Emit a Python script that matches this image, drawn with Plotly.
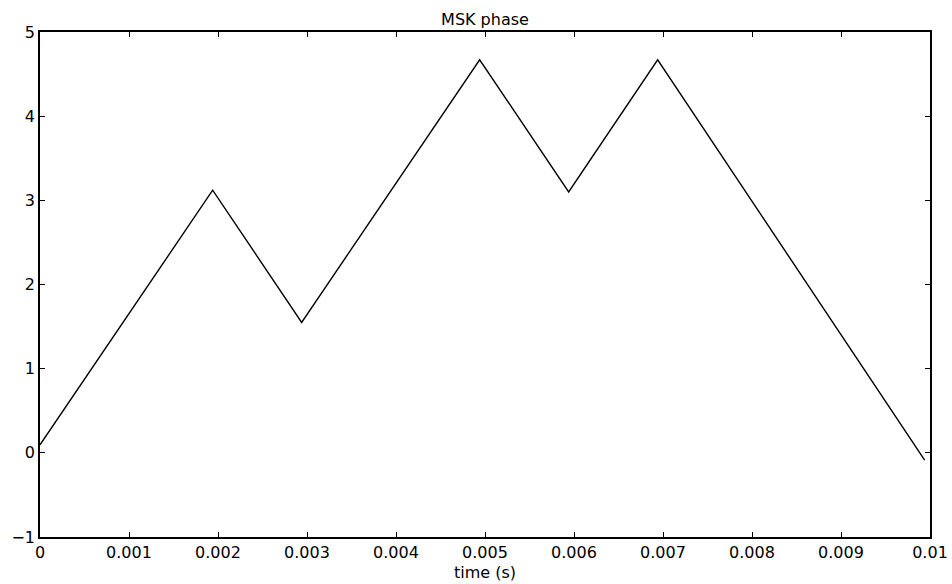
import plotly.graph_objects as go

# vertices of the MSK phase trajectory (time in s, phase in rad)
time_s = [0.0, 0.00194, 0.00294, 0.00494, 0.00594, 0.00694, 0.00994]
phase = [0.095, 3.12, 1.55, 4.67, 3.10, 4.67, -0.087]

x_ticks = [0, 0.001, 0.002, 0.003, 0.004, 0.005, 0.006, 0.007, 0.008, 0.009, 0.01]
x_tick_text = ["0", "0.001", "0.002", "0.003", "0.004", "0.005", "0.006", "0.007", "0.008", "0.009", "0.01"]
y_ticks = [-1, 0, 1, 2, 3, 4, 5]

fig = go.Figure()
fig.add_trace(go.Scatter(x=time_s, y=phase, mode="lines",
                         line=dict(color="black", width=1.4), showlegend=False))

W, H = 952, 584
font = dict(family="DejaVu Sans, Verdana, sans-serif", size=16, color="black")
fig.update_layout(
    width=W, height=H,
    margin=dict(l=40, r=22, t=32, b=47),
    paper_bgcolor="white", plot_bgcolor="white",
    font=font,
    title=dict(text="MSK phase", x=485 / W, xanchor="center",
               y=1 - 19 / H, yanchor="middle", font=dict(size=16)),
)
fig.update_xaxes(range=[0, 0.01], tickvals=x_ticks, ticktext=x_tick_text,
                 ticks="inside", ticklen=5, tickcolor="black", tickwidth=1.2,
                 showline=True, linecolor="black", linewidth=1.5, mirror="ticks",
                 showgrid=False, zeroline=False, automargin=False,
                 ticklabeloverflow="allow",
                 title=dict(text="time (s)", standoff=6, font=dict(size=16)))
fig.update_yaxes(range=[-1, 5], tickvals=y_ticks,
                 ticks="inside", ticklen=5, tickcolor="black", tickwidth=1.2,
                 showline=True, linecolor="black", linewidth=1.5, mirror="ticks",
                 showgrid=False, zeroline=False, automargin=False)

fig.write_html("out.html", config={"displayModeBar": False},
               post_script="document.body.style.margin='0';document.body.style.overflow='hidden';")
